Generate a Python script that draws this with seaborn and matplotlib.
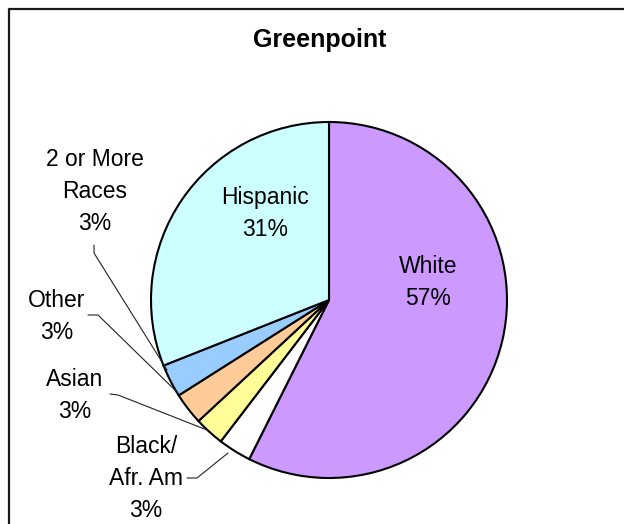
import matplotlib

matplotlib.use("Agg")

import matplotlib.pyplot as plt
import seaborn as sns

# data: clockwise from 12 o'clock
groups = ["White", "Black/\nAfr. Am", "Asian", "Other", "2 or More\nRaces", "Hispanic"]
shares = [57.4, 3.0, 2.7, 2.9, 3.0, 31.0]
slice_colors = ["#CC99FF", "#FFFFFF", "#FFFF99", "#FFCC99", "#99CCFF", "#CCFFFF"]
title = "Greenpoint"

W, H = 624, 524
LINE_PX = 32  # baseline to baseline

sns.set_theme(style="white")
plt.rcParams["font.family"] = ["Liberation Sans", "DejaVu Sans"]
plt.rcParams["text.color"] = "black"


def Y(py):
    # pixel row (from top) -> data y
    return H - py


fig = plt.figure(figsize=(W / 100, H / 100), dpi=100)
ax = fig.add_axes([0, 0, 1, 1])

ax.pie(
    shares,
    colors=slice_colors,
    startangle=90,
    counterclock=False,
    center=(329, Y(300)),
    radius=178,
    wedgeprops=dict(edgecolor="black", linewidth=1.5),
)
ax.set_xlim(0, W)
ax.set_ylim(0, H)
ax.set_aspect("equal", adjustable="box")
ax.axis("off")

# label anchors (x centre, first-line baseline) in pixels
label_pos = {
    "White": (428, 273),
    "Hispanic": (265, 204),
    "2 or More\nRaces": (95, 166),
    "Other": (57, 307),
    "Asian": (75, 386),
    "Black/\nAfr. Am": (146, 453),
}
leaders = {
    "2 or More\nRaces": [(94, 245), (94, 253), (167, 370)],
    "Other": [(88, 315), (98, 315), (178, 393)],
    "Asian": [(110, 394), (118, 395), (207, 430)],
    "Black/\nAfr. Am": [(187, 478), (197, 478), (228, 453)],
}

for name, share in zip(groups, shares):
    x, y = label_pos[name]
    txt = f"{name}\n{round(share):.0f}%"
    last_base = y + LINE_PX * txt.count("\n")
    ax.text(x, Y(last_base), txt, ha="center", va="baseline",
            fontsize=16.5, linespacing=1.5, color="black")
    if name in leaders:
        pts = leaders[name]
        ax.plot([p[0] for p in pts], [Y(p[1]) for p in pts], color="#222222", lw=0.8,
                clip_on=False)

ax.text(320, Y(47), title, ha="center", va="baseline", fontsize=18,
        fontweight="bold", color="black")

# chart area frame (cropped at right and bottom)
ax.plot([9, 9, W + 5], [Y(H + 5), Y(9), Y(9)], color="#1a1a1a", lw=1.6, clip_on=False)

fig.savefig("out.png", dpi=100)
